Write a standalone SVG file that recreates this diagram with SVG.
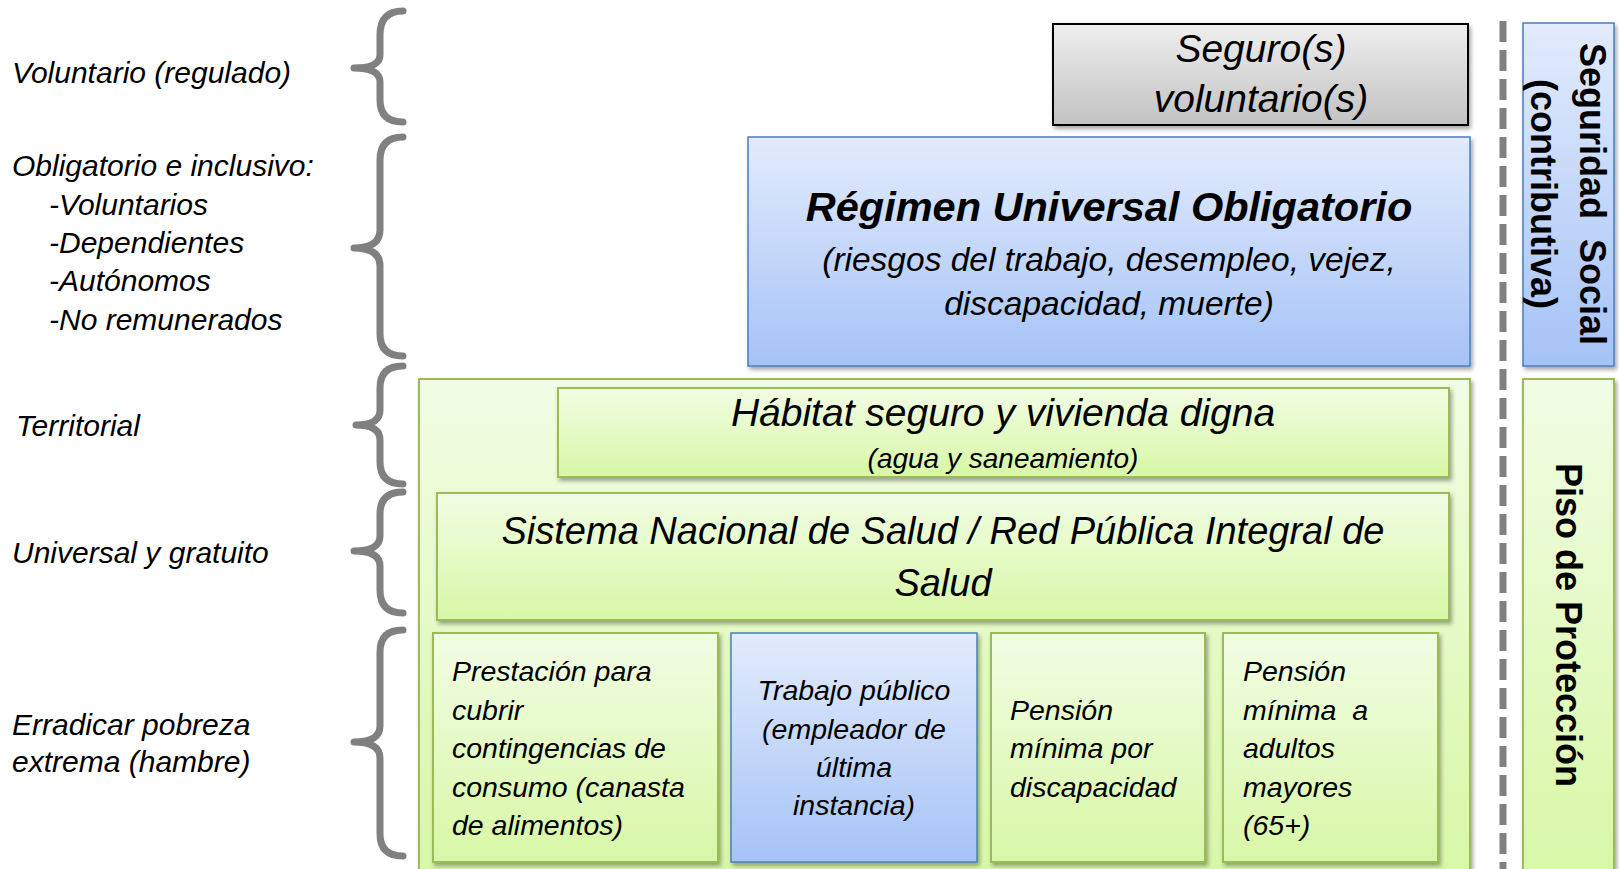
<svg xmlns="http://www.w3.org/2000/svg" width="1620" height="869" viewBox="0 0 1620 869">
<defs>
<linearGradient id="gGreen" x1="0" y1="0" x2="0" y2="1"><stop offset="0" stop-color="#f1fde4"/><stop offset="1" stop-color="#d8f7a6"/></linearGradient>
<linearGradient id="gBlue" x1="0" y1="0" x2="0" y2="1"><stop offset="0" stop-color="#e3ebfc"/><stop offset="1" stop-color="#a5c3f6"/></linearGradient>
<linearGradient id="gGray" x1="0" y1="0" x2="0" y2="1"><stop offset="0" stop-color="#efefef"/><stop offset="1" stop-color="#c2c2c2"/></linearGradient>
<filter id="sh" x="-5%" y="-5%" width="110%" height="120%"><feDropShadow dx="2" dy="3" stdDeviation="2" flood-color="#000" flood-opacity="0.35"/></filter>
</defs>
<style>
text{font-family:"Liberation Sans",Arial,sans-serif;fill:#000}
.it{font-style:italic}
.lbl{font-style:italic;font-size:30px}
.green{fill:url(#gGreen);stroke:#9bbb59;stroke-width:2}
.blue{fill:url(#gBlue);stroke:#4a7ebb;stroke-width:1.5}
.gray{fill:url(#gGray);stroke:#000;stroke-width:2}
.brace{fill:none;stroke:#808080;stroke-width:7;stroke-linecap:round;stroke-linejoin:round}
.bt{font-style:italic;font-size:28.5px}
.vt{font-weight:bold;font-size:36px}
</style>
<rect width="1620" height="869" fill="#fff"/>

<g id="left-labels">
<text class="lbl" x="12" y="83">Voluntario (regulado)</text>
<text class="lbl" x="12" y="176">Obligatorio e inclusivo:</text>
<text class="lbl" x="49" y="215">-Voluntarios</text>
<text class="lbl" x="49" y="253">-Dependientes</text>
<text class="lbl" x="49" y="291">-Autónomos</text>
<text class="lbl" x="49" y="330">-No remunerados</text>
<text class="lbl" x="16" y="436">Territorial</text>
<text class="lbl" x="12" y="563">Universal y gratuito</text>
<text class="lbl" x="12" y="735">Erradicar pobreza</text>
<text class="lbl" x="12" y="772">extrema (hambre)</text>
</g>

<g id="braces">
<path class="brace" d="M403 11 Q380 11 380 35 L380 55 Q380 68 354 68 Q380 68 380 82 L380 100 Q380 122 403 122"/>
<path class="brace" d="M403 137 Q380 137 380 160 L380 230 Q380 248 354 248 Q380 248 380 266 L380 334 Q380 356 403 356"/>
<path class="brace" d="M403 366 Q380 366 380 388 L380 410 Q380 425 356 425 Q380 425 380 440 L380 462 Q380 484 403 484"/>
<path class="brace" d="M403 492 Q380 492 380 514 L380 536 Q380 551 354 551 Q380 551 380 566 L380 590 Q380 613 403 613"/>
<path class="brace" d="M403 630 Q380 630 380 652 L380 726 Q380 742 354 742 Q380 742 380 758 L380 834 Q380 856 403 856"/>
</g>

<g id="connectors">
<line x1="1503" y1="21" x2="1503" y2="869" stroke="#808080" stroke-width="7" stroke-dasharray="21 8"/>
</g>

<g id="seguro">
<rect class="gray" x="1053" y="24" width="415" height="101" filter="url(#sh)"/>
<text class="it" font-size="39px" x="1261" y="62" text-anchor="middle">Seguro(s)</text>
<text class="it" font-size="39px" x="1261" y="112" text-anchor="middle">voluntario(s)</text>
</g>

<g id="regimen">
<rect class="blue" x="748" y="137" width="722" height="229" filter="url(#sh)"/>
<text font-weight="bold" font-style="italic" font-size="41.5px" x="1109" y="221" text-anchor="middle">Régimen Universal Obligatorio</text>
<text class="it" font-size="33.5px" x="1109" y="271" text-anchor="middle">(riesgos del trabajo, desempleo, vejez,</text>
<text class="it" font-size="33.5px" x="1109" y="315" text-anchor="middle">discapacidad, muerte)</text>
</g>

<g id="seguridad-social">
<rect class="blue" x="1523" y="23" width="91" height="343" filter="url(#sh)"/>
<text class="vt" transform="translate(1580 194) rotate(90)" text-anchor="middle" xml:space="preserve">Seguridad  Social</text>
<text class="vt" transform="translate(1531 194) rotate(90)" text-anchor="middle">(contributiva)</text>
</g>

<g id="piso-area">
<rect class="green" x="419" y="379" width="1051" height="500" filter="url(#sh)"/>
</g>

<g id="piso-proteccion">
<rect class="green" x="1523" y="379" width="91" height="500" filter="url(#sh)"/>
<text class="vt" transform="translate(1556 625) rotate(90)" text-anchor="middle">Piso de Protección</text>
</g>

<g id="habitat">
<rect class="green" x="558" y="388" width="891" height="89" filter="url(#sh)"/>
<text class="it" font-size="39px" x="1003" y="426" text-anchor="middle">Hábitat seguro y vivienda digna</text>
<text class="it" font-size="28px" x="1003" y="468" text-anchor="middle">(agua y saneamiento)</text>
</g>

<g id="salud">
<rect class="green" x="437" y="493" width="1012" height="127" filter="url(#sh)"/>
<text class="it" font-size="38px" x="943" y="544" text-anchor="middle">Sistema Nacional de Salud / Red Pública Integral de</text>
<text class="it" font-size="38px" x="943" y="596" text-anchor="middle">Salud</text>
</g>

<g id="prestacion">
<rect class="green" x="433" y="633" width="285" height="229" filter="url(#sh)"/>
<text class="bt" x="452" y="681">Prestación para</text>
<text class="bt" x="452" y="720">cubrir</text>
<text class="bt" x="452" y="758">contingencias de</text>
<text class="bt" x="452" y="797">consumo (canasta</text>
<text class="bt" x="452" y="835">de alimentos)</text>
</g>

<g id="trabajo">
<rect class="blue" x="731" y="633" width="246" height="229" filter="url(#sh)"/>
<text class="bt" x="854" y="700" text-anchor="middle">Trabajo público</text>
<text class="bt" x="854" y="739" text-anchor="middle">(empleador de</text>
<text class="bt" x="854" y="777" text-anchor="middle">última</text>
<text class="bt" x="854" y="815" text-anchor="middle">instancia)</text>
</g>

<g id="pension-discapacidad">
<rect class="green" x="991" y="633" width="214" height="229" filter="url(#sh)"/>
<text class="bt" x="1010" y="720">Pensión</text>
<text class="bt" x="1010" y="758">mínima por</text>
<text class="bt" x="1010" y="797">discapacidad</text>
</g>

<g id="pension-adultos">
<rect class="green" x="1223" y="633" width="215" height="229" filter="url(#sh)"/>
<text class="bt" x="1243" y="681">Pensión</text>
<text class="bt" x="1243" y="720" xml:space="preserve">mínima  a</text>
<text class="bt" x="1243" y="758">adultos</text>
<text class="bt" x="1243" y="797">mayores</text>
<text class="bt" x="1243" y="835">(65+)</text>
</g>
</svg>
